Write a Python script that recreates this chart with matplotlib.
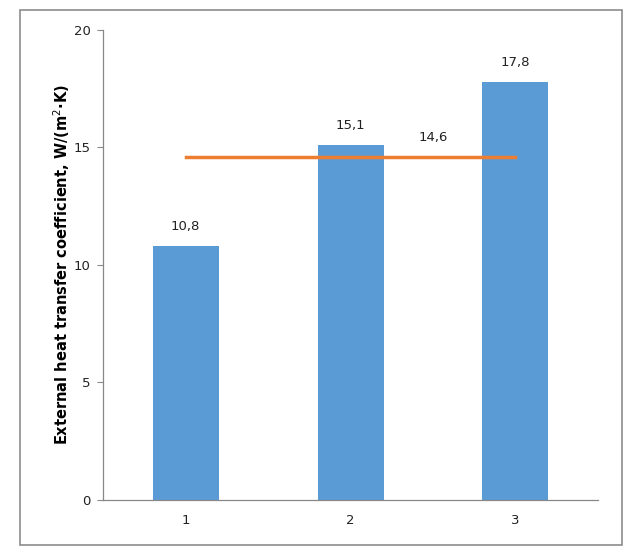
import numpy as np
import matplotlib.pyplot as plt
from matplotlib.patches import Rectangle

# data
categories = ['1', '2', '3']
values = [10.8, 15.1, 17.8]
mean_value = 14.6
value_labels = ['10,8', '15,1', '17,8']
mean_label = '14,6'

bar_color = '#5B9BD5'
line_color = '#ED7D31'
axis_color = '#888888'

fig = plt.figure(figsize=(6.26, 5.56), dpi=100)
ax = fig.add_axes([0.165, 0.101, 0.79, 0.845])

x = np.arange(len(categories))
ax.bar(x, values, width=0.4, color=bar_color, zorder=2)
ax.plot([x[0], x[-1]], [mean_value, mean_value], color=line_color, lw=2.5, zorder=3)

for xi, v, lab in zip(x, values, value_labels):
    ax.text(xi, v + 0.55, lab, ha='center', va='bottom', fontsize=9.5, color='#222222')
ax.text(1.5, mean_value + 0.55, mean_label, ha='center', va='bottom', fontsize=9.5, color='#222222')

ax.set_xlim(-0.5, 2.5)
ax.set_ylim(0, 20)
ax.set_yticks([0, 5, 10, 15, 20])
ax.set_xticks(x)
ax.set_xticklabels(categories)
ax.tick_params(axis='y', length=4, color=axis_color, labelsize=9.5, pad=5, labelcolor='#222222')
ax.tick_params(axis='x', length=0, labelsize=9.5, pad=10, labelcolor='#222222')

for s in ['top', 'right']:
    ax.spines[s].set_visible(False)
for s in ['left', 'bottom']:
    ax.spines[s].set_color(axis_color)
    ax.spines[s].set_linewidth(0.9)

ax.set_ylabel('External heat transfer coefficient, W/(m$^2$·K)', fontsize=10.5,
              fontweight='bold', labelpad=1)

# outer chart border
fig.patches.append(Rectangle((20 / 626, 1 - 545 / 556), 602 / 626, 535 / 556,
                             transform=fig.transFigure, fill=False,
                             edgecolor='#8c8c8c', lw=1.2))

fig.savefig('out.png', dpi=100)
